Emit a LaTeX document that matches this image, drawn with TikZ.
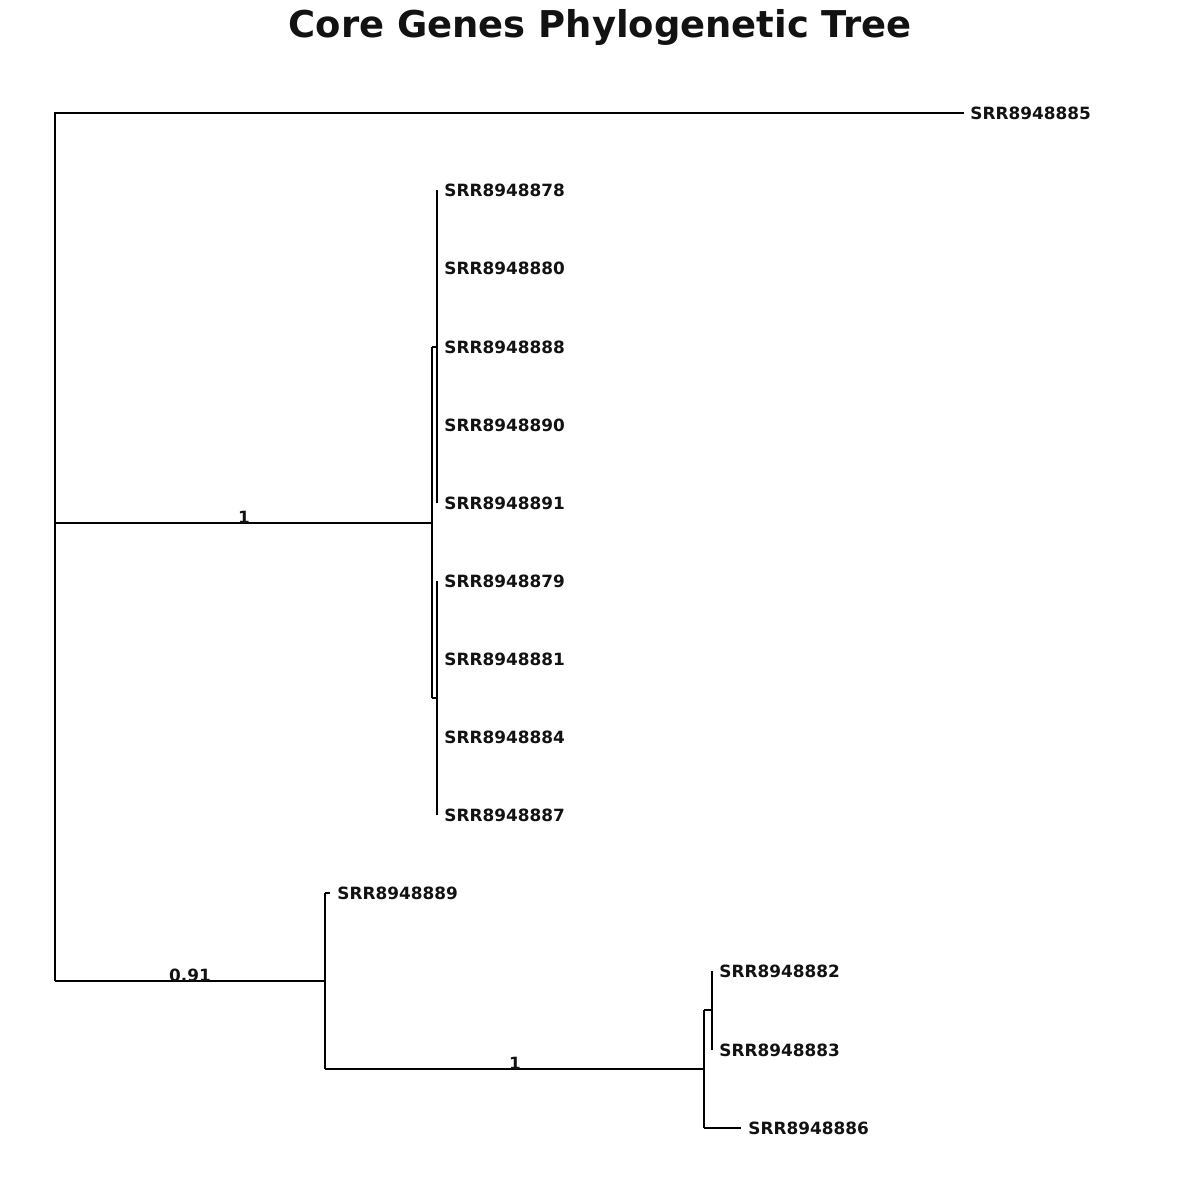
\documentclass[tikz,border=0pt]{standalone}
\usepackage{fontspec}
\setmainfont{DejaVu Sans}
\begin{document}
\begin{tikzpicture}[x=0.01cm,y=-0.01cm,line width=0.8pt,
  leaf/.style={anchor=west,inner sep=0pt,font=\fontsize{4.8}{5}\selectfont\bfseries,text=black!93},
  sup/.style={inner sep=0pt,font=\fontsize{4.8}{5}\selectfont\bfseries,text=black!93}]
\useasboundingbox (0,0) rectangle (1200,1200);
\node[font=\fontsize{10.5}{12}\selectfont\bfseries,text=black!93] (title) at (600,27) {Core Genes Phylogenetic Tree};
% leaves
\foreach \n/\x/\y in {85/963/113,78/437/190,80/437/268,88/437/347,90/437/425,91/437/503,79/437/581,81/437/659,84/437/737,87/437/815,89/330/893,82/712/971,83/712/1050,86/741/1128}
  \node[leaf] (l\n) at (\x+6,\y) {SRR89488\n};
\draw[line cap=rect] (55,113) -- (963,113);
\draw (55,113) -- (55,981);
\draw (55,523) -- (432,523);
\draw (432,347) -- (432,698);
\draw (432,347) -- (437,347);
\draw (432,698) -- (437,698);
\draw (437,190) -- (437,503);
\draw (437,581) -- (437,815);
\draw (55,981) -- (325,981);
\draw (325,893) -- (325,1069);
\draw (325,893) -- (330,893);
\draw (325,1069) -- (704,1069);
\draw (704,1010) -- (704,1128);
\draw (704,1010) -- (712,1010);
\draw (712,971) -- (712,1050);
\draw (704,1128) -- (741,1128);
\node[sup] (s1) at (244,517) {1};
\node[sup] (s2) at (190,975) {0.91};
\node[sup] (s3) at (515,1063) {1};
\end{tikzpicture}
\end{document}
